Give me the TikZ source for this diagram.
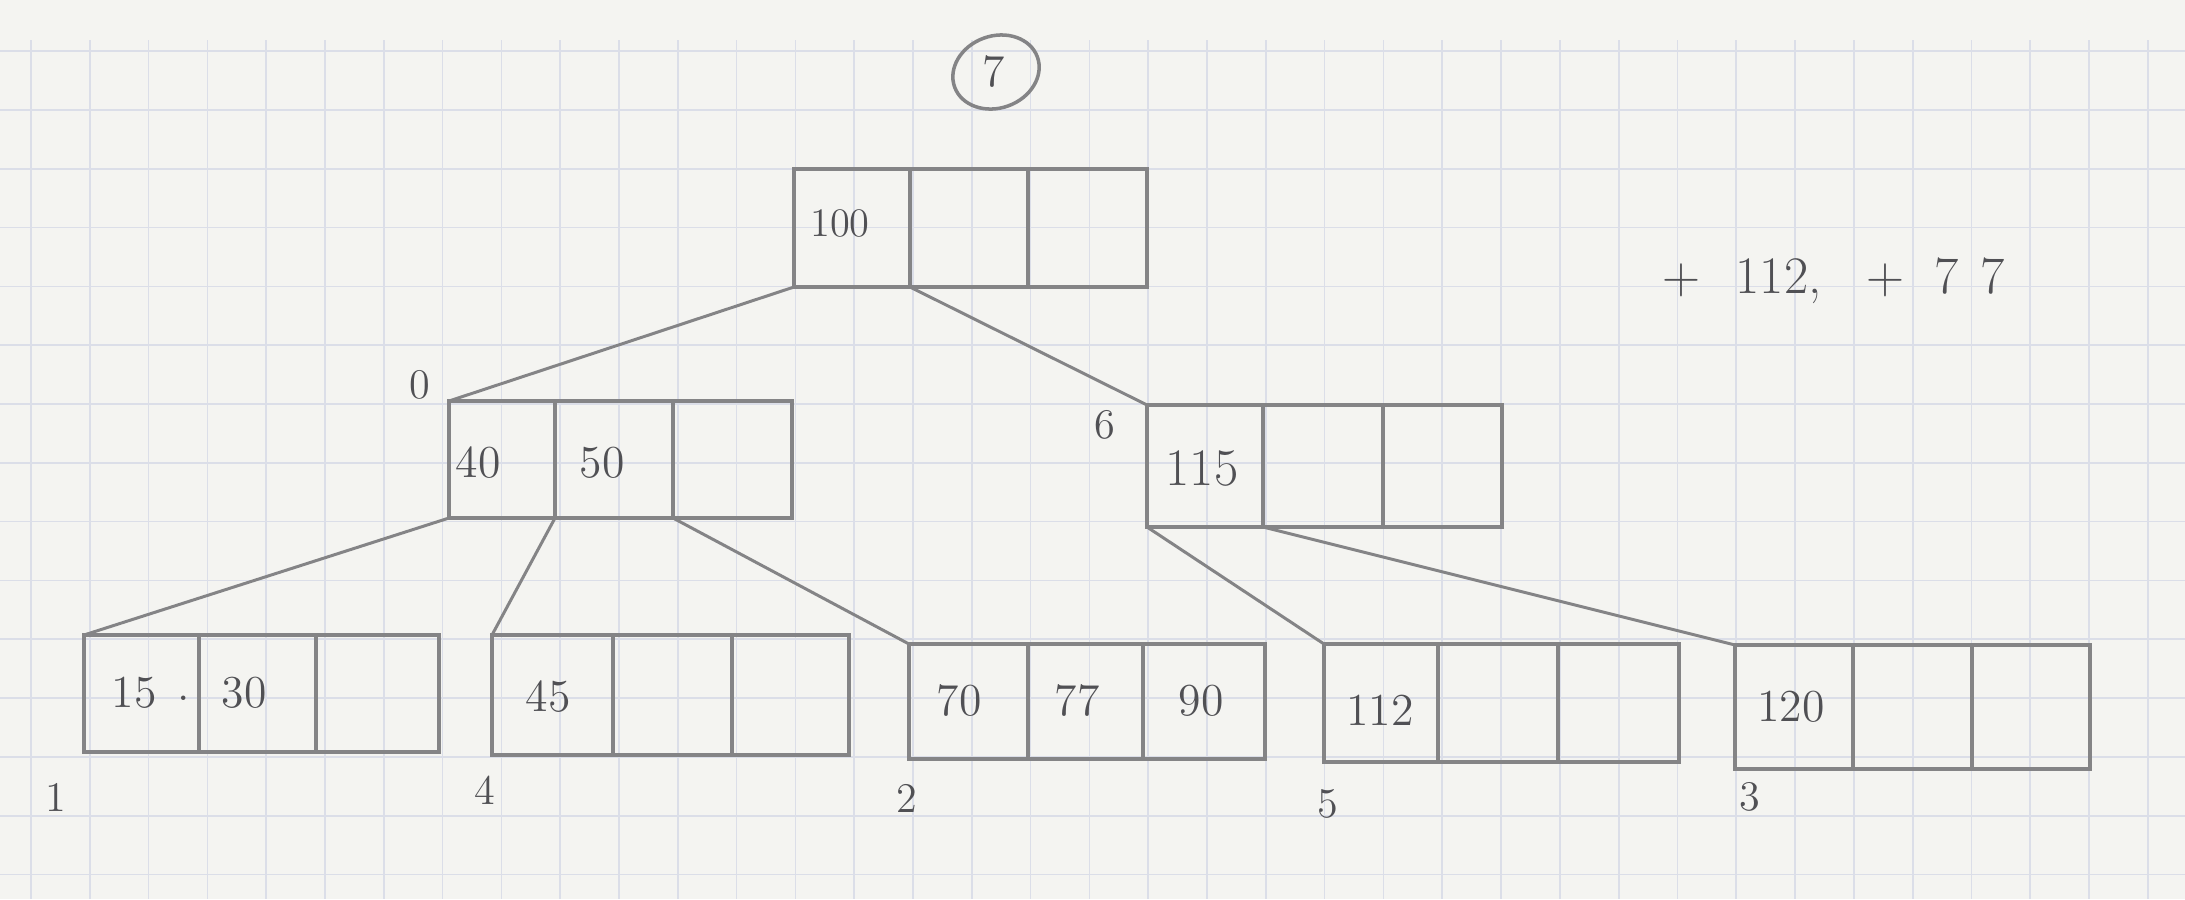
\documentclass[tikz,border=0pt]{standalone}
\usetikzlibrary{fit,shapes.geometric}
\definecolor{paper}{RGB}{244,244,241}
\definecolor{gridc}{RGB}{219,222,232}
\definecolor{pencil}{RGB}{132,132,134}
\definecolor{ink}{RGB}{80,80,84}
\begin{document}
\begin{tikzpicture}[x=0.01cm,y=-0.01cm,
 cell/.style={draw=pencil, line width=1pt, inner sep=0pt, outer sep=0pt, rectangle},
 edge/.style={draw=pencil, line width=0.85pt},
 num/.style={text=ink, font=\fontsize{13}{15}\selectfont, inner sep=0pt},
 lbl/.style={text=ink, font=\fontsize{12}{14}\selectfont, inner sep=0pt}]
\useasboundingbox (0,0) rectangle (2185,899);
\fill[paper] (0,0) rectangle (2185,899);
\foreach \i in {0,...,36} \draw[gridc, line width=0.5pt] ({31+58.8*\i},40) -- ({31+58.8*\i},899);
\foreach \j in {0,...,14} \draw[gridc, line width=0.5pt] (0,{51.2+58.8*\j}) -- (2185,{51.2+58.8*\j});

% circled page number
\node[draw=pencil, line width=1pt, ellipse, minimum width=0.88cm, minimum height=0.72cm, rotate=20] (circ) at (996,72) {};
\node[num] (seven) at (994,72) {7};

% root
\node[cell, fit={(794,169) (910,287)}] (r1) {};
\node[cell, fit={(910,169) (1028,287)}] (r2) {};
\node[cell, fit={(1028,169) (1147,287)}] (r3) {};
\node[num, font=\fontsize{11.5}{13}\selectfont] (t100) at (840,223) {100};

% node 0
\node[cell, fit={(449,401) (555,518)}] (a1) {};
\node[cell, fit={(555,401) (673,518)}] (a2) {};
\node[cell, fit={(673,401) (792,518)}] (a3) {};
\node[num] (t40) at (478,463) {40};
\node[num] (t50) at (602,463) {50};
\node[lbl] (l0) at (420,385) {0};

% node 6
\node[cell, fit={(1147,405) (1263,527)}] (b1) {};
\node[cell, fit={(1263,405) (1383,527)}] (b2) {};
\node[cell, fit={(1383,405) (1502,527)}] (b3) {};
\node[num, font=\fontsize{15}{17}\selectfont] (t115) at (1202,468) {115};
\node[lbl] (l6) at (1105,425) {6};

% leaf 1
\node[cell, fit={(84,635) (199,752)}] (c1) {};
\node[cell, fit={(199,635) (316,752)}] (c2) {};
\node[cell, fit={(316,635) (439,752)}] (c3) {};
\node[num] (t15) at (134,693) {15};
\node[num] (tdot) at (184,698) {.};
\node[num] (t30) at (244,693) {30};
\node[lbl] (l1) at (56,797) {1};

% leaf 4
\node[cell, fit={(492,635) (613,755)}] (d1) {};
\node[cell, fit={(613,635) (732,755)}] (d2) {};
\node[cell, fit={(732,635) (849,755)}] (d3) {};
\node[num] (t45) at (548,697) {45};
\node[lbl] (l4) at (485,790) {4};

% leaf 2
\node[cell, fit={(909,644) (1028,759)}] (e1) {};
\node[cell, fit={(1028,644) (1143,759)}] (e2) {};
\node[cell, fit={(1143,644) (1265,759)}] (e3) {};
\node[num] (t70) at (959,701) {70};
\node[num] (t77) at (1077,701) {77};
\node[num] (t90) at (1201,701) {90};
\node[lbl] (l2) at (907,798) {2};

% leaf 5
\node[cell, fit={(1324,644) (1438,762)}] (f1) {};
\node[cell, fit={(1438,644) (1558,762)}] (f2) {};
\node[cell, fit={(1558,644) (1679,762)}] (f3) {};
\node[num] (t112) at (1380,710) {112};
\node[lbl] (l5) at (1328,804) {5};

% leaf 3
\node[cell, fit={(1735,645) (1853,769)}] (g1) {};
\node[cell, fit={(1853,645) (1972,769)}] (g2) {};
\node[cell, fit={(1972,645) (2090,769)}] (g3) {};
\node[num] (t120) at (1791,707) {120};
\node[lbl] (l3) at (1750,797) {3};

% connectors
\draw[edge] (r1.south west) -- (a1.north west);
\draw[edge] (r1.south east) -- (b1.north west);
\draw[edge] (a1.south west) -- (c1.north west);
\draw[edge] (a1.south east) -- (d1.north west);
\draw[edge] (a2.south east) -- (e1.north west);
\draw[edge] (b1.south west) -- (f1.north west);
\draw[edge] (b1.south east) -- (g1.north west);

% annotation
\node[num, font=\fontsize{15}{17}\selectfont, anchor=west] (note) at (1662,281)
 {+\hspace{0.35cm}112,\hspace{0.45cm}+\hspace{0.3cm}7\hspace{0.22cm}7};
\end{tikzpicture}
\end{document}
